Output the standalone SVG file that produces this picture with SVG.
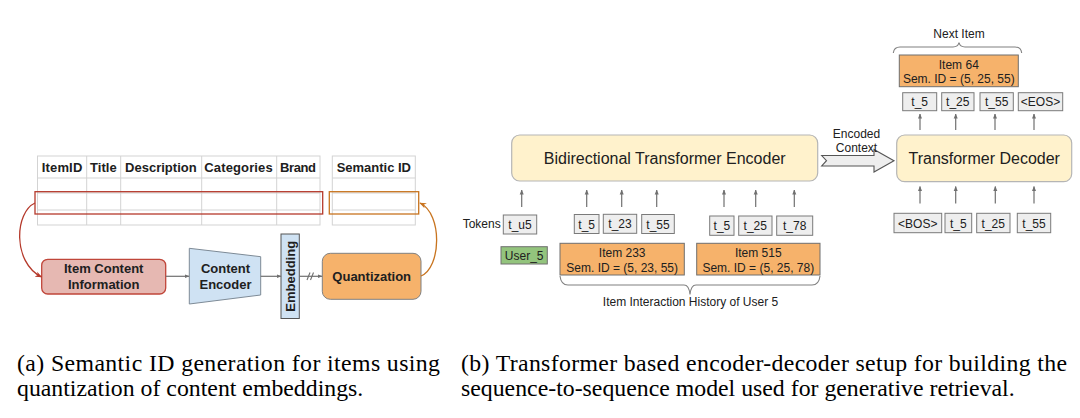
<svg xmlns="http://www.w3.org/2000/svg" width="1080" height="418" viewBox="0 0 1080 418">
<style>
.lt{font-family:"Liberation Sans",Arial,sans-serif;font-weight:bold;font-size:13px;fill:#202020}
.rt{font-family:"Liberation Sans",Arial,sans-serif;font-size:12px;fill:#202020}
.big{font-size:16px}
.cap{font-family:"Liberation Serif","Times New Roman",serif;font-size:23.8px;fill:#000}
.grid{stroke:#d3d3d3;stroke-width:1;fill:none}
.tok{fill:#eeeeee;stroke:#7a7a7a;stroke-width:1}
.item{fill:#f6b26b;stroke:#6f6f6f;stroke-width:1}
.blk{fill:#fff2cc;stroke:#b5b5b5;stroke-width:1.2}
.ar{stroke:#707070;stroke-width:1.2;fill:none;marker-end:url(#ah)}
.brace{stroke:#808080;stroke-width:1.1;fill:none}
</style>
<defs>
<marker id="ah" viewBox="0 0 10 10" refX="9" refY="5" markerWidth="5" markerHeight="5" orient="auto" markerUnits="userSpaceOnUse">
<path d="M0,1 L10,5 L0,9 z" fill="#707070"/>
</marker>
<marker id="ahr" viewBox="0 0 10 10" refX="9" refY="5" markerWidth="7" markerHeight="7" orient="auto" markerUnits="userSpaceOnUse">
<path d="M0,1 L10,5 L0,9 L3,5 z" fill="#b5392b"/>
</marker>
<marker id="aho" viewBox="0 0 10 10" refX="9" refY="5" markerWidth="7" markerHeight="7" orient="auto" markerUnits="userSpaceOnUse">
<path d="M0,1 L10,5 L0,9 L3,5 z" fill="#c8741f"/>
</marker>
</defs>
<rect width="1080" height="418" fill="#ffffff"/>

<!-- Panel (a): tables -->
<g id="item-table">
<rect x="37.5" y="156" width="282.5" height="69" class="grid"/>
<line x1="37.5" y1="178" x2="320" y2="178" class="grid"/>
<line x1="37.5" y1="193" x2="320" y2="193" class="grid"/>
<line x1="37.5" y1="210" x2="320" y2="210" class="grid"/>
<line x1="86.7" y1="156" x2="86.7" y2="225" class="grid"/>
<line x1="120.7" y1="156" x2="120.7" y2="225" class="grid"/>
<line x1="201.7" y1="156" x2="201.7" y2="225" class="grid"/>
<line x1="276.7" y1="156" x2="276.7" y2="225" class="grid"/>
<text class="lt" x="41.7" y="172" textLength="40.6">ItemID</text>
<text class="lt" x="90" y="172" textLength="26.7">Title</text>
<text class="lt" x="125" y="172" textLength="71.7">Description</text>
<text class="lt" x="204.3" y="172" textLength="68.4">Categories</text>
<text class="lt" x="280" y="172" textLength="36">Brand</text>
<rect x="35" y="191.7" width="287.7" height="22.3" fill="none" stroke="#b5392b" stroke-width="1.3"/>
</g>
<g id="semantic-id-table">
<rect x="332.3" y="156" width="83" height="69" class="grid"/>
<line x1="332.3" y1="178" x2="415.3" y2="178" class="grid"/>
<line x1="332.3" y1="193" x2="415.3" y2="193" class="grid"/>
<line x1="332.3" y1="210" x2="415.3" y2="210" class="grid"/>
<text class="lt" x="336.7" y="172" textLength="74.3">Semantic ID</text>
<rect x="329.3" y="191.7" width="89.4" height="22.3" fill="none" stroke="#c8741f" stroke-width="1.3"/>
</g>

<g id="item-content-information">
<rect x="41.7" y="259.3" width="124" height="34.7" rx="6" fill="#e6b8b2" stroke="#c0463a" stroke-width="1.3"/>
<text class="lt" x="103.7" y="273" text-anchor="middle">Item Content</text>
<text class="lt" x="103.7" y="288.5" text-anchor="middle">Information</text>
</g>
<g id="content-encoder">
<path d="M189.3,248.3 L260.7,256.7 L260.7,295 L189.3,304 Z" fill="#cfe2f3" stroke="#7d8a96" stroke-width="1"/>
<text class="lt" x="225.5" y="273" text-anchor="middle">Content</text>
<text class="lt" x="225.5" y="288.5" text-anchor="middle">Encoder</text>
</g>
<g id="embedding">
<rect x="281" y="234" width="18.3" height="84.5" fill="#cfe2f3" stroke="#555" stroke-width="1"/>
<text class="lt" x="0" y="0" text-anchor="middle" transform="translate(294.7,276.3) rotate(-90)">Embedding</text>
</g>
<g id="quantization">
<rect x="322.3" y="253.3" width="98.7" height="46" rx="8" fill="#f6b26b" stroke="#808080" stroke-width="1"/>
<text class="lt" x="371.7" y="281" text-anchor="middle">Quantization</text>
</g>

<g id="connectors-a">
<line x1="165.7" y1="276.3" x2="189" y2="276.3" class="ar"/>
<line x1="260.7" y1="276.3" x2="281" y2="276.3" class="ar"/>
<line x1="299.3" y1="276.3" x2="322" y2="276.3" class="ar"/>
<line x1="307" y1="280" x2="310" y2="272.5" stroke="#707070" stroke-width="1.1"/>
<line x1="310.5" y1="280" x2="313.5" y2="272.5" stroke="#707070" stroke-width="1.1"/>
<path d="M35,203 C15,212 12,262 41.5,277" fill="none" stroke="#b5392b" stroke-width="1.3" marker-end="url(#ahr)"/>
<path d="M421,276 C441,268 443,214 420,203" fill="none" stroke="#c8741f" stroke-width="1.3" marker-end="url(#aho)"/>
</g>

<!-- Panel (b) -->
<g id="encoder">
<rect x="511.7" y="135" width="306" height="46" rx="8" class="blk"/>
<text class="rt big" x="664.7" y="164" text-anchor="middle">Bidirectional Transformer Encoder</text>
</g>
<g id="decoder">
<rect x="896.7" y="135" width="175" height="46.7" rx="8" class="blk"/>
<text class="rt big" x="984.2" y="164" text-anchor="middle">Transformer Decoder</text>
</g>
<g id="encoded-context">
<path d="M821.7,155.5 L874,155.5 L874,149.5 L894,160.7 L874,172 L874,166 L821.7,166 L826.5,160.7 Z" fill="#eeeeee" stroke="#555" stroke-width="1.1"/>
<text class="rt" x="856.5" y="138" text-anchor="middle" font-size="12.4">Encoded</text>
<text class="rt" x="856.5" y="151.5" text-anchor="middle" font-size="12.4">Context</text>
</g>

<text class="rt" x="462.7" y="228">Tokens</text>
<g id="tok-u5"><rect x="503.3" y="215" width="33.4" height="19" class="tok"/><text class="rt" x="520" y="229" text-anchor="middle">t_u5</text></g>
<g id="user5"><rect x="501" y="246.7" width="46.3" height="17.3" fill="#93c47d" stroke="#707070" stroke-width="1"/><text class="rt" x="524.2" y="259.5" text-anchor="middle" font-size="10.6">User_5</text></g>

<g id="tok-g1-5"><rect x="574.3" y="214.5" width="24.7" height="19" class="tok"/><text class="rt" x="586.7" y="228.5" text-anchor="middle">t_5</text></g>
<g id="tok-g1-23"><rect x="603.3" y="214.3" width="33.4" height="19" class="tok"/><text class="rt" x="620" y="228.3" text-anchor="middle">t_23</text></g>
<g id="tok-g1-55"><rect x="641.7" y="214.5" width="32.6" height="19" class="tok"/><text class="rt" x="658" y="228.5" text-anchor="middle">t_55</text></g>
<g id="item233">
<rect x="560" y="243.3" width="124.3" height="31.7" class="item"/>
<text class="rt" x="622.2" y="257" text-anchor="middle">Item 233</text>
<text class="rt" x="622.2" y="271.7" text-anchor="middle">Sem. ID = (5, 23, 55)</text>
</g>

<g id="tok-g2-5"><rect x="709.7" y="216" width="24.3" height="19.3" class="tok"/><text class="rt" x="721.9" y="230.2" text-anchor="middle">t_5</text></g>
<g id="tok-g2-25"><rect x="738.7" y="216" width="33.3" height="19.3" class="tok"/><text class="rt" x="755.3" y="230.2" text-anchor="middle">t_25</text></g>
<g id="tok-g2-78"><rect x="776.7" y="216" width="36" height="19.3" class="tok"/><text class="rt" x="794.7" y="230.2" text-anchor="middle">t_78</text></g>
<g id="item515">
<rect x="696.7" y="243.3" width="123.3" height="31.7" class="item"/>
<text class="rt" x="758.3" y="257" text-anchor="middle">Item 515</text>
<text class="rt" x="758.3" y="271.7" text-anchor="middle">Sem. ID = (5, 25, 78)</text>
</g>

<g id="history-brace">
<path class="brace" d="M560,276 Q561,285 568,285 L684,285 Q689,285 690,294.5 Q691,285 696,285 L812,285 Q819,285 820,276"/>
<text class="rt" x="690.5" y="306" text-anchor="middle" font-size="12.5">Item Interaction History of User 5</text>
</g>

<g id="dec-in-bos"><rect x="894" y="213.3" width="47.7" height="19.4" class="tok"/><text class="rt" x="917.8" y="227.5" text-anchor="middle">&lt;BOS&gt;</text></g>
<g id="dec-in-5"><rect x="945" y="213.3" width="26.7" height="19.4" class="tok"/><text class="rt" x="958.3" y="227.5" text-anchor="middle">t_5</text></g>
<g id="dec-in-25"><rect x="976.7" y="213.3" width="33.3" height="19.4" class="tok"/><text class="rt" x="993.3" y="227.5" text-anchor="middle">t_25</text></g>
<g id="dec-in-55"><rect x="1017.3" y="213.3" width="33.4" height="19.4" class="tok"/><text class="rt" x="1034" y="227.5" text-anchor="middle">t_55</text></g>

<g id="dec-out-5"><rect x="902.7" y="92.7" width="34" height="18" class="tok"/><text class="rt" x="919.7" y="106.2" text-anchor="middle">t_5</text></g>
<g id="dec-out-25"><rect x="941.7" y="92.7" width="32.3" height="18" class="tok"/><text class="rt" x="957.8" y="106.2" text-anchor="middle">t_25</text></g>
<g id="dec-out-55"><rect x="980" y="92.7" width="33.3" height="18" class="tok"/><text class="rt" x="996.7" y="106.2" text-anchor="middle">t_55</text></g>
<g id="dec-out-eos"><rect x="1018.3" y="92.7" width="44.4" height="18" class="tok"/><text class="rt" x="1040.5" y="106.2" text-anchor="middle">&lt;EOS&gt;</text></g>

<g id="item64">
<rect x="899.3" y="55" width="119" height="31.7" class="item"/>
<text class="rt" x="958.8" y="69" text-anchor="middle">Item 64</text>
<text class="rt" x="958.8" y="83.3" text-anchor="middle">Sem. ID = (5, 25, 55)</text>
</g>
<g id="next-item-brace">
<path class="brace" d="M893.3,53 Q894,47 900,47 L953,47 Q958,47 959,42.5 Q960,47 965,47 L1015,47 Q1021,47 1021.7,53"/>
<text class="rt" x="959" y="37.5" text-anchor="middle" font-size="12.4">Next Item</text>
</g>

<g id="connectors-b">
<line x1="521.7" y1="207" x2="521.7" y2="190" class="ar"/>
<line x1="586.7" y1="207" x2="586.7" y2="190" class="ar"/>
<line x1="621.7" y1="207" x2="621.7" y2="190" class="ar"/>
<line x1="656.7" y1="207" x2="656.7" y2="190" class="ar"/>
<line x1="724" y1="207" x2="724" y2="190" class="ar"/>
<line x1="755.7" y1="207" x2="755.7" y2="190" class="ar"/>
<line x1="794.3" y1="207" x2="794.3" y2="190" class="ar"/>
<line x1="920" y1="203.5" x2="920" y2="186.5" class="ar"/>
<line x1="955.7" y1="203.5" x2="955.7" y2="186.5" class="ar"/>
<line x1="995.3" y1="203.5" x2="995.3" y2="186.5" class="ar"/>
<line x1="1034" y1="203.5" x2="1034" y2="186.5" class="ar"/>
<line x1="920" y1="130" x2="920" y2="114" class="ar"/>
<line x1="955.7" y1="130" x2="955.7" y2="114" class="ar"/>
<line x1="995" y1="130" x2="995" y2="114" class="ar"/>
<line x1="1034" y1="130" x2="1034" y2="114" class="ar"/>
</g>

<g id="captions">
<text class="cap" x="17" y="371" textLength="423">(a) Semantic ID generation for items using</text>
<text class="cap" x="17" y="396">quantization of content embeddings.</text>
<text class="cap" x="461" y="371" textLength="606">(b) Transformer based encoder-decoder setup for building the</text>
<text class="cap" x="461" y="396">sequence-to-sequence model used for generative retrieval.</text>
</g>
</svg>
